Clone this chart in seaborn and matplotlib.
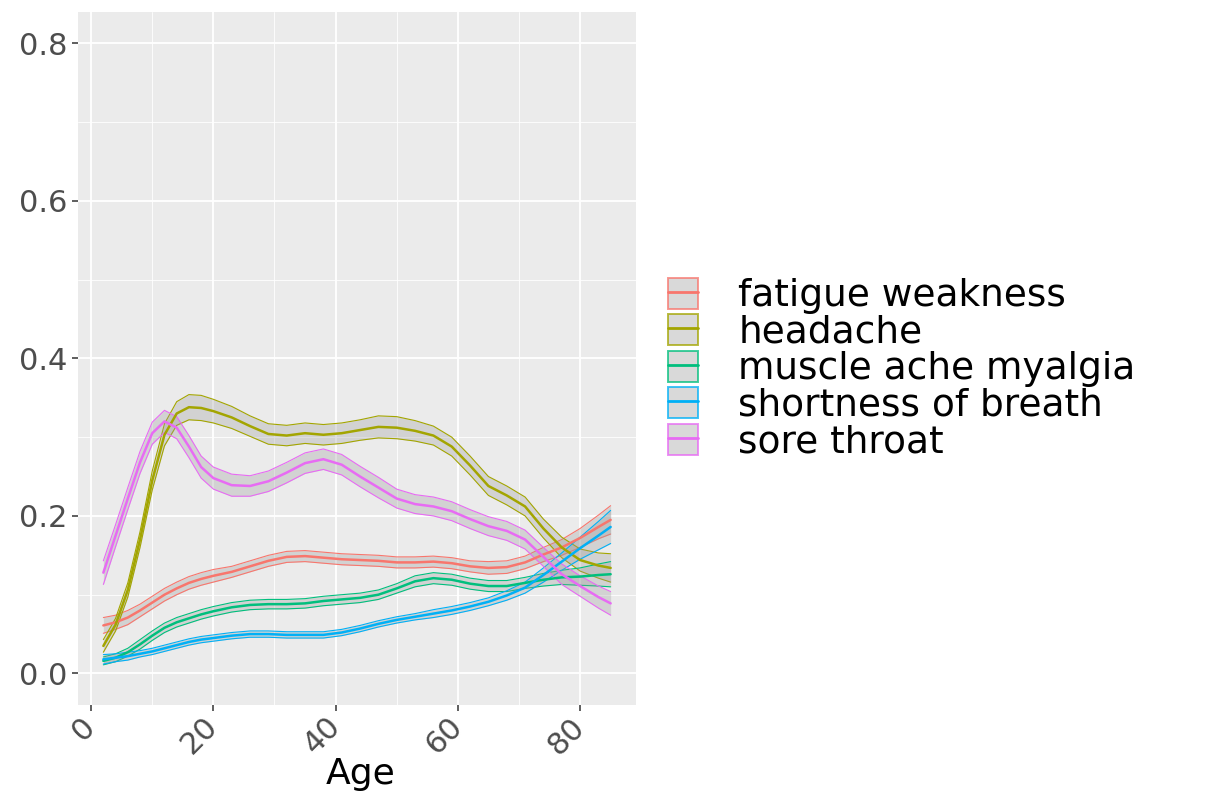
import numpy as np
import pandas as pd
import matplotlib
matplotlib.use("Agg")
import matplotlib.pyplot as plt
import seaborn as sns
from matplotlib.patches import Patch
from matplotlib.lines import Line2D
from matplotlib.legend_handler import HandlerTuple
from matplotlib.ticker import MultipleLocator
from matplotlib.colors import to_rgba

# ---------------- data ----------------
ages = [2, 4, 6, 8, 10, 12, 14, 16, 18, 20, 23, 26, 29, 32, 35, 38, 41, 44, 47,
        50, 53, 56, 59, 62, 65, 68, 71, 74, 77, 80, 83, 85]

symptoms = ["fatigue weakness", "headache", "muscle ache myalgia",
            "shortness of breath", "sore throat"]
colors = ["#F8766D", "#A3A500", "#00BF7D", "#00B0F6", "#E76BF3"]

fatigue = [0.061, 0.065, 0.071, 0.080, 0.090, 0.100, 0.108, 0.115, 0.120, 0.124,
           0.129, 0.136, 0.143, 0.148, 0.149, 0.147, 0.145, 0.144, 0.143, 0.141,
           0.141, 0.142, 0.140, 0.136, 0.134, 0.135, 0.141, 0.151, 0.160, 0.172,
           0.186, 0.195]
fatigue_hw = [0.010, 0.009, 0.009, 0.008, 0.008, 0.008, 0.008, 0.008, 0.008, 0.008,
              0.007, 0.007, 0.007, 0.007, 0.007, 0.007, 0.007, 0.007, 0.007, 0.007,
              0.007, 0.007, 0.007, 0.007, 0.008, 0.008, 0.008, 0.009, 0.010, 0.012,
              0.015, 0.018]

headache = [0.035, 0.062, 0.106, 0.170, 0.245, 0.303, 0.330, 0.338, 0.337, 0.333,
            0.325, 0.314, 0.304, 0.302, 0.305, 0.303, 0.305, 0.309, 0.313, 0.312,
            0.308, 0.302, 0.288, 0.264, 0.238, 0.226, 0.212, 0.184, 0.160, 0.144,
            0.137, 0.134]
headache_hw = [0.008, 0.008, 0.009, 0.010, 0.012, 0.014, 0.015, 0.016, 0.016, 0.015,
               0.014, 0.013, 0.013, 0.013, 0.013, 0.013, 0.013, 0.013, 0.014, 0.014,
               0.013, 0.012, 0.012, 0.012, 0.012, 0.012, 0.012, 0.012, 0.013, 0.014,
               0.016, 0.018]

muscle = [0.016, 0.020, 0.027, 0.037, 0.048, 0.058, 0.065, 0.070, 0.075, 0.079,
          0.084, 0.087, 0.088, 0.088, 0.089, 0.092, 0.094, 0.096, 0.100, 0.108,
          0.117, 0.121, 0.119, 0.114, 0.111, 0.111, 0.115, 0.119, 0.122, 0.123,
          0.125, 0.126]
muscle_hw = [0.005, 0.005, 0.005, 0.006, 0.006, 0.006, 0.006, 0.006, 0.006, 0.006,
             0.006, 0.006, 0.006, 0.006, 0.006, 0.006, 0.006, 0.006, 0.006, 0.006,
             0.007, 0.007, 0.007, 0.007, 0.007, 0.007, 0.007, 0.008, 0.009, 0.011,
             0.014, 0.016]

breath = [0.018, 0.020, 0.022, 0.025, 0.028, 0.032, 0.036, 0.040, 0.043, 0.045,
          0.048, 0.050, 0.050, 0.049, 0.049, 0.049, 0.052, 0.057, 0.063, 0.068,
          0.072, 0.076, 0.080, 0.085, 0.091, 0.099, 0.109, 0.125, 0.142, 0.159,
          0.175, 0.186]
breath_hw = [0.006, 0.005, 0.005, 0.004, 0.004, 0.004, 0.004, 0.004, 0.004, 0.004,
             0.004, 0.004, 0.004, 0.004, 0.004, 0.004, 0.004, 0.004, 0.004, 0.004,
             0.004, 0.005, 0.005, 0.005, 0.005, 0.006, 0.007, 0.009, 0.011, 0.014,
             0.018, 0.021]

sore = [0.128, 0.175, 0.222, 0.268, 0.305, 0.320, 0.312, 0.288, 0.262, 0.248,
        0.239, 0.238, 0.244, 0.255, 0.267, 0.272, 0.265, 0.250, 0.236, 0.222,
        0.215, 0.212, 0.206, 0.196, 0.187, 0.181, 0.170, 0.148, 0.126, 0.111,
        0.097, 0.089]
sore_hw = [0.015, 0.014, 0.014, 0.014, 0.014, 0.014, 0.014, 0.014, 0.014, 0.014,
           0.014, 0.013, 0.013, 0.013, 0.013, 0.013, 0.013, 0.013, 0.013, 0.012,
           0.012, 0.012, 0.012, 0.012, 0.012, 0.012, 0.012, 0.012, 0.013, 0.013,
           0.014, 0.015]

x_ticks = [0, 20, 40, 60, 80]
y_ticks = [0.0, 0.2, 0.4, 0.6, 0.8]
y_tick_labels = ["0.0", "0.2", "0.4", "0.6", "0.8"]

# ---------------- build long table ----------------
means = [fatigue, headache, muscle, breath, sore]
hws = [fatigue_hw, headache_hw, muscle_hw, breath_hw, sore_hw]
rows = []
for s, m, h in zip(symptoms, means, hws):
    for a, v, w in zip(ages, m, h):
        rows.append({"Age": a, "symptom": s, "mean": v, "lo": v - w, "hi": v + w})
df = pd.DataFrame(rows)

# ---------------- style ----------------
sns.set_theme(style="darkgrid", rc={
    "axes.facecolor": "#EBEBEB",
    "figure.facecolor": "white",
    "grid.color": "white",
})
plt.rcParams["font.family"] = ["DejaVu Sans"]

W, H = 1218, 798
fig = plt.figure(figsize=(W / 100, H / 100), dpi=100)
ax = fig.add_axes([78 / W, 1 - 705 / H, (636 - 78) / W, (705 - 11.7) / H])

palette = dict(zip(symptoms, colors))
for i, (s, c) in enumerate(zip(symptoms, colors)):
    d = df[df["symptom"] == s]
    ax.fill_between(d["Age"], d["lo"], d["hi"], color="#999999", alpha=0.3,
                    lw=0, zorder=2 + i * 0.1)
    ax.plot(d["Age"], d["lo"], color=c, lw=0.8, zorder=2.05 + i * 0.1)
    ax.plot(d["Age"], d["hi"], color=c, lw=0.8, zorder=2.05 + i * 0.1)

sns.lineplot(data=df, x="Age", y="mean", hue="symptom", palette=palette,
             hue_order=symptoms, linewidth=1.8, legend=False, ax=ax, zorder=3)

ax.set_xlim(-2.15, 89.15)
ax.set_ylim(-0.04, 0.84)
ax.set_xticks(x_ticks)
ax.set_xticklabels([str(t) for t in x_ticks], rotation=45, ha="right",
                   va="center", rotation_mode="anchor")
ax.set_yticks(y_ticks)
ax.set_yticklabels(y_tick_labels)
ax.xaxis.set_minor_locator(MultipleLocator(10))
ax.yaxis.set_minor_locator(MultipleLocator(0.1))
ax.grid(which="major", color="white", lw=1.3)
ax.grid(which="minor", color="white", lw=0.6)
ax.tick_params(which="major", length=4.3, width=1.1, color="#333333",
               labelcolor="#4D4D4D", labelsize=22, pad=3,
               bottom=True, left=True)
ax.tick_params(axis="x", which="major", pad=8)
ax.tick_params(which="minor", length=0)
for sp in ax.spines.values():
    sp.set_visible(False)
ax.set_ylabel("")
ax.set_xlabel("Age", fontsize=26, color="black")
ax.xaxis.set_label_coords((361 - 78) / 558, -(757 - 705) / 693.3)

handles = [(Patch(facecolor="#D9D9D9", edgecolor=to_rgba(c, 0.75), lw=1.4),
            Line2D([], [], color=c, lw=2)) for c in colors]
fig.legend(handles, symptoms,
           handler_map={tuple: HandlerTuple(ndivide=1, pad=0)},
           loc="center left", bbox_to_anchor=(668 / W, 1 - 369 / H),
           frameon=False, fontsize=27, handlelength=0.8, handleheight=0.9,
           handletextpad=1.07, labelspacing=0.0, borderpad=0,
           borderaxespad=0, labelcolor="black")

fig.savefig("out.png", dpi=100)
